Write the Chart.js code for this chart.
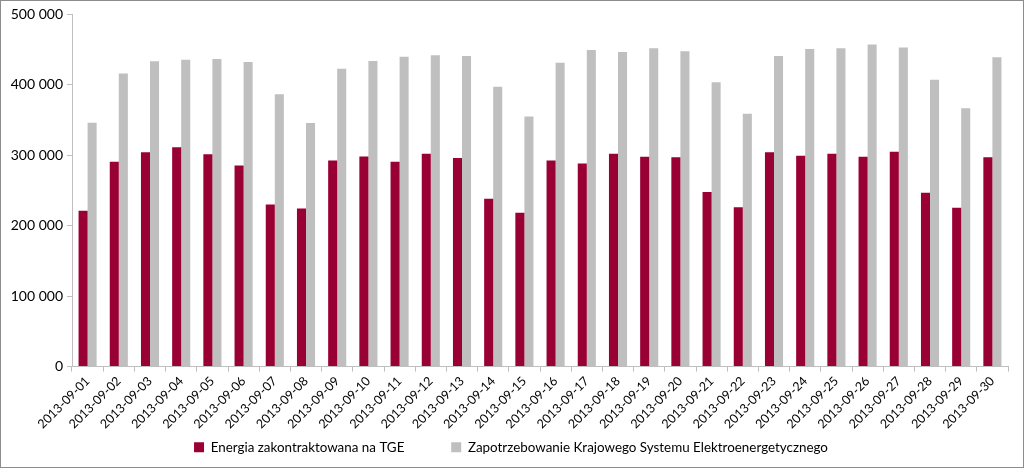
<!DOCTYPE html>
<html>
<head>
<meta charset="utf-8">
<script src="https://cdn.jsdelivr.net/npm/chart.js@4/dist/chart.umd.min.js"></script>
<style>
html,body{margin:0;padding:0;background:#fff;}
#wrap{width:1024px;height:468px;position:relative;}
</style>
</head>
<body>
<div id="wrap"><canvas id="c" width="1024" height="468"></canvas></div>
<script>
const categories = ["2013-09-01","2013-09-02","2013-09-03","2013-09-04","2013-09-05","2013-09-06","2013-09-07","2013-09-08","2013-09-09","2013-09-10","2013-09-11","2013-09-12","2013-09-13","2013-09-14","2013-09-15","2013-09-16","2013-09-17","2013-09-18","2013-09-19","2013-09-20","2013-09-21","2013-09-22","2013-09-23","2013-09-24","2013-09-25","2013-09-26","2013-09-27","2013-09-28","2013-09-29","2013-09-30"];
const energiaTGE = [221000,290400,303800,311000,301000,285300,230000,224300,292400,298100,290400,301900,295700,238100,218100,292400,288100,301900,297600,296700,247600,226100,303800,299000,301900,297600,304700,246700,225300,296700];
const zapotrzebowanieKSE = [345700,415700,432900,435300,436100,431900,386200,345300,422400,433300,439500,441400,440500,396700,354800,431000,449000,446200,451400,447100,403300,358600,440500,450500,451400,456700,452400,406700,366200,438600];
const seriesNames = ["Energia zakontraktowana na TGE","Zapotrzebowanie Krajowego Systemu Elektroenergetycznego"];
const yTicks = [0,100000,200000,300000,400000,500000];

const FONT = "Lato, 'Open Sans', sans-serif";
const frame = {
  id:'frame',
  afterLayout(chart){
    if (chart.legend) { chart.legend.left += 7; chart.legend.right += 7; }
  },
  beforeDraw(chart){
    const ctx = chart.ctx;
    ctx.save();
    ctx.fillStyle = '#fff';
    ctx.fillRect(0,0,chart.width,chart.height);
    ctx.restore();
  },
  afterDraw(chart){
    const ctx = chart.ctx;
    ctx.save();
    ctx.strokeStyle = '#8c8c8c';
    ctx.lineWidth = 1;
    ctx.strokeRect(0.5,0.5,chart.width-1,chart.height-1);
    ctx.restore();
  }
};

new Chart(document.getElementById('c'), {
  type:'bar',
  data:{
    labels:categories,
    datasets:[
      {label:seriesNames[0], data:energiaTGE, backgroundColor:'#990033', borderWidth:0, barPercentage:1, categoryPercentage:0.58},
      {label:seriesNames[1], data:zapotrzebowanieKSE, backgroundColor:'#BFBFBF', borderWidth:0, barPercentage:1, categoryPercentage:0.58}
    ]
  },
  options:{
    responsive:false,
    animation:false,
    layout:{padding:{top:14,right:16,left:0,bottom:4}},
    plugins:{
      tooltip:{enabled:false},
      legend:{
        position:'bottom',
        labels:{
          boxWidth:10, boxHeight:10, padding:10,
          color:'#000',
          font:{family:FONT, size:13.4},
          generateLabels(chart){
            const items = Chart.defaults.plugins.legend.labels.generateLabels(chart);
            items.forEach((it,i)=>{ if(i===0) it.text = it.text + '\u2003\u2003\u2003\u2002'; it.lineWidth = 0; });
            return items;
          }
        }
      }
    },
    scales:{
      x:{
        grid:{drawOnChartArea:false, drawTicks:true, tickLength:5, color:'#BFBFBF', offset:true},
        border:{display:true, color:'#BFBFBF'},
        ticks:{minRotation:45, maxRotation:45, autoSkip:false, color:'#000', padding:2, font:{family:FONT, size:12.5}},
        afterFit(s){ s.height = 64; }
      },
      y:{
        min:0, max:500000,
        afterBuildTicks(s){ s.ticks = yTicks.map(v=>({value:v})); },
        grid:{drawOnChartArea:false, drawTicks:true, tickLength:5, color:'#BFBFBF'},
        border:{display:true, color:'#BFBFBF'},
        ticks:{color:'#000', padding:4, font:{family:FONT, size:14},
          callback:(v)=> String(v).replace(/\B(?=(\d{3})+(?!\d))/g,' ')},
        afterFit(s){ s.width = 72; }
      }
    }
  },
  plugins:[frame]
});
</script>
</body>
</html>
